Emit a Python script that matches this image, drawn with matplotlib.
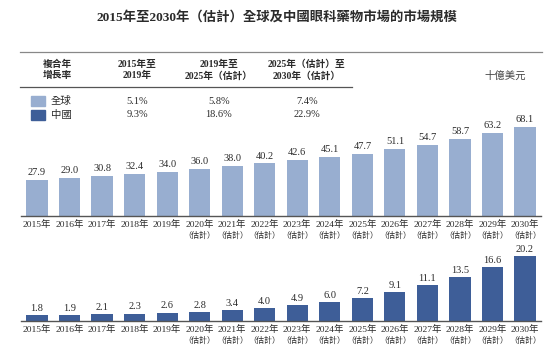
import numpy as np
import matplotlib
matplotlib.use('Agg')
import matplotlib.pyplot as plt
from matplotlib.patches import Rectangle
from matplotlib.lines import Line2D

FONT = ['Liberation Serif', 'Noto Sans CJK TC']
plt.rcParams['font.family'] = FONT

###########################
# Data
###########################

years = [str(y) for y in range(2015, 2031)]
global_vals = [27.9, 29.0, 30.8, 32.4, 34.0, 36.0, 38.0, 40.2,
               42.6, 45.1, 47.7, 51.1, 54.7, 58.7, 63.2, 68.1]
china_vals = [1.8, 1.9, 2.1, 2.3, 2.6, 2.8, 3.4, 4.0,
              4.9, 6.0, 7.2, 9.1, 11.1, 13.5, 16.6, 20.2]
first_estimate = 2020
estimate_tag = '（估計）'

cagr_headers = ['複合年\n增長率', '2015年至\n2019年', '2019年至\n2025年（估計）', '2025年（估計）至\n2030年（估計）']
series_names = ['全球', '中國']
cagr_global = ['5.1%', '5.8%', '7.4%']
cagr_china = ['9.3%', '18.6%', '22.9%']

title = '2015年至2030年（估計）全球及中國眼科藥物市場的市場規模'
unit = '十億美元'

LIGHT = '#98AED0'
DARK = '#3E5E98'
TEXT = '#2b2b2b'

W, H = 553, 354


def fx(px):
    return px / W


def fy(py):
    return 1 - py / H


fig = plt.figure(figsize=(5.53, 3.54), dpi=100)

fig.text(fx(277), fy(17), title, ha='center', va='center', fontsize=9.6,
         fontweight='bold', color=TEXT)

# table rules
fig.add_artist(Line2D([fx(20), fx(542)], [fy(52), fy(52)], color='#888888', lw=0.9))
fig.add_artist(Line2D([fx(20), fx(352)], [fy(87), fy(87)], color='#555555', lw=0.9))

col_x = [57, 137, 219, 307]
for hdr, cx in zip(cagr_headers, col_x):
    fig.text(fx(cx), fy(70), hdr, ha='center', va='center', fontsize=7,
             fontweight='bold', color=TEXT, linespacing=1.3)

row_y = [101, 115]
colors = [LIGHT, DARK]
rows = [cagr_global, cagr_china]
for name, ry, c, vals in zip(series_names, row_y, colors, rows):
    fig.add_artist(Rectangle((fx(31), fy(ry + 5)), fx(14), 10 / H, color=c,
                             transform=fig.transFigure))
    fig.text(fx(51), fy(ry), name, ha='left', va='center', fontsize=7.5, color=TEXT)
    for v, cx in zip(vals, col_x[1:]):
        fig.text(fx(cx), fy(ry), v, ha='center', va='center', fontsize=7.5, color=TEXT)

fig.text(fx(505), fy(76), unit, ha='center', va='center', fontsize=7.5,
         style='italic', color='#444444')

x = np.arange(len(years))


def draw(ax, vals, color, ymax):
    ax.bar(x, vals, width=0.65, color=color)
    for xi, v in zip(x, vals):
        ax.text(xi, v + ymax * 0.03, '{:.1f}'.format(v), ha='center', va='bottom',
                fontsize=7.5, color=TEXT)
    ax.set_xlim(-0.5, len(years) - 0.5)
    ax.set_ylim(0, ymax)
    for s in ['top', 'right', 'left']:
        ax.spines[s].set_visible(False)
    ax.spines['bottom'].set_color('#555555')
    ax.spines['bottom'].set_linewidth(1.0)
    ax.set_yticks([])
    ax.set_xticks(x)
    ax.set_xticklabels([y + '年' for y in years], fontsize=6.8, color=TEXT)
    ax.tick_params(axis='x', length=0, pad=3)
    # second line for estimated years
    for xi, y in zip(x, years):
        if int(y) >= first_estimate:
            ax.annotate(estimate_tag, xy=(xi, 0), xycoords=('data', 'axes fraction'),
                        xytext=(0, -14), textcoords='offset points',
                        ha='center', va='center', fontsize=5.8, color=TEXT)
    ax.patch.set_alpha(0)


ax_top = fig.add_axes([fx(20.7), (H - 216) / H, fx(520.6), 98 / H])
draw(ax_top, global_vals, LIGHT, 75)

ax_bot = fig.add_axes([fx(20.7), (H - 321) / H, fx(520.6), 71 / H])
draw(ax_bot, china_vals, DARK, 22)

fig.savefig('out.png', dpi=100)
